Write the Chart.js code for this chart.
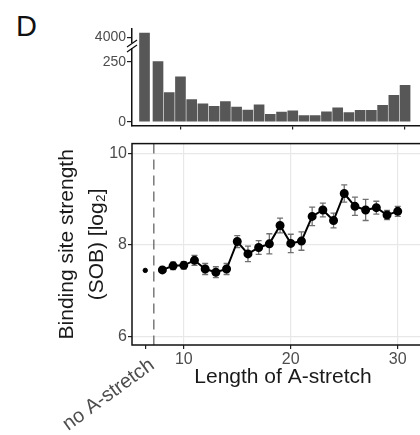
<!DOCTYPE html>
<html lang="en">
<head>
  <meta charset="UTF-8">
  <title>Length of A-stretch</title>
  <script src="https://cdn.jsdelivr.net/npm/chart.js"></script>
  <style>
    html, body { margin: 0; padding: 0; background: #fff; overflow: hidden; }
    body { width: 420px; height: 435px; position: relative; font-family: "Liberation Sans", Arial, sans-serif; }
    #panelLabel { position: absolute; left: 16px; top: 12px; font-size: 29px; line-height: 29px; color: #111; }
    #countChart { position: absolute; left: 0; top: 0; }
    #sobChart { position: absolute; left: 0; top: 133px; }
  </style>
</head>
<body>
  <div id="panelLabel">D</div>
  <canvas id="countChart" width="440" height="135"></canvas>
  <canvas id="sobChart" width="440" height="302"></canvas>

  <script>
    // A-stretch lengths (x axis), plus the "no A-stretch" group
    const lengths = [8, 9, 10, 11, 12, 13, 14, 15, 16, 17, 18, 19, 20, 21, 22, 23, 24, 25, 26, 27, 28, 29, 30];
    const noStretchLabel = 'no A-stretch';
    const noStretchBarX = 6.8;    // where the group sits on the top axis
    const noStretchPointX = 6.4;  // and on the bottom axis
    const dividerX = 7.2;         // dashed separator

    // number of sites per length (top histogram)
    const noStretchCount = 4180;
    const siteCounts = [250, 121, 187, 92, 74, 64, 84, 61, 49, 70, 31, 40, 45, 26, 26, 41, 58, 38, 47, 47, 68, 110, 152];
    const countTicks = [0, 250, 4000];

    // binding site strength (SOB, log2) with error
    const noStretchSob = 7.44;
    const sobMeans = [7.45, 7.54, 7.55, 7.66, 7.47, 7.40, 7.47, 8.07, 7.80, 7.94, 8.02, 8.42, 8.03, 8.08, 8.62, 8.76, 8.53, 9.12, 8.84, 8.76, 8.81, 8.65, 8.73];
    const sobErrors = [0.05, 0.08, 0.08, 0.11, 0.12, 0.12, 0.12, 0.13, 0.17, 0.15, 0.22, 0.16, 0.2, 0.2, 0.2, 0.15, 0.16, 0.19, 0.2, 0.23, 0.14, 0.1, 0.11];
    const sobTicks = [6, 8, 10];
    const lengthTicks = [10, 20, 30];

    const FONT = '"Liberation Sans", Arial, sans-serif';
    const TICK_COLOR = '#4d4d4d';

    // broken y axis: linear up to 250, then a compressed segment around 4000
    function toDisplay(v) {
      return v <= 250 ? v : 351 + (v - 4000) / 10;
    }

    // "//" break mark on the y axis of the histogram
    const axisBreak = {
      id: 'axisBreak',
      afterDraw(chart) {
        const ctx = chart.ctx;
        const x = chart.chartArea.left;
        const y = chart.scales.y.getPixelForValue(315);
        ctx.save();
        ctx.fillStyle = '#fff';
        ctx.fillRect(x - 2, y - 3, 4, 5);
        ctx.strokeStyle = '#111';
        ctx.lineWidth = 1.3;
        ctx.beginPath();
        ctx.moveTo(x - 5, y + 1); ctx.lineTo(x + 5, y - 6);
        ctx.moveTo(x - 5, y + 6); ctx.lineTo(x + 5, y - 1);
        ctx.stroke();
        ctx.restore();
      }
    };

    const barData = [{ x: noStretchBarX, y: toDisplay(noStretchCount) }]
      .concat(lengths.map((l, i) => ({ x: l, y: toDisplay(siteCounts[i]) })));

    new Chart(document.getElementById('countChart'), {
      type: 'bar',
      data: {
        datasets: [{
          data: barData,
          backgroundColor: '#575757',
          barThickness: 10
        }]
      },
      options: {
        responsive: false,
        animation: false,
        layout: { padding: { top: 29, left: 0, right: 0, bottom: 0 } },
        plugins: { legend: { display: false }, tooltip: { enabled: false } },
        scales: {
          x: {
            type: 'linear',
            offset: false,
            min: 5.685,
            max: 33.11,
            afterBuildTicks: s => { s.ticks = lengthTicks.map(v => ({ value: v })); },
            afterFit: s => { s.height = 6; },
            ticks: { display: false },
            grid: { offset: false, drawOnChartArea: false, tickLength: 4, tickColor: '#222', lineWidth: 1.2 },
            border: { color: '#111', width: 1.5 }
          },
          y: {
            min: -16.1,
            max: 385.9,
            afterBuildTicks: s => { s.ticks = countTicks.map(v => ({ value: toDisplay(v) })); },
            afterFit: s => { s.width = 132; },
            ticks: {
              callback: (v, i) => String(countTicks[i]),
              font: { family: FONT, size: 14 },
              color: TICK_COLOR,
              padding: 1
            },
            grid: { drawOnChartArea: false, tickLength: 5, tickColor: '#222', lineWidth: 1.2 },
            border: { color: '#111', width: 1.5 }
          }
        }
      },
      plugins: [axisBreak]
    });

    // frame, dashed separator, error bars and the rotated label
    const sobDecor = {
      id: 'sobDecor',
      beforeDatasetsDraw(chart) {
        const { ctx, chartArea, scales: { x, y } } = chart;
        ctx.save();
        // dashed separator
        ctx.strokeStyle = '#666';
        ctx.lineWidth = 1.3;
        ctx.setLineDash([10, 6]);
        ctx.beginPath();
        const dx = x.getPixelForValue(dividerX);
        ctx.moveTo(dx, chartArea.top);
        ctx.lineTo(dx, chartArea.bottom);
        ctx.stroke();
        ctx.setLineDash([]);
        // error bars
        ctx.strokeStyle = '#707070';
        ctx.lineWidth = 1.3;
        ctx.beginPath();
        lengths.forEach((l, i) => {
          const px = x.getPixelForValue(l);
          const lo = y.getPixelForValue(sobMeans[i] - sobErrors[i]);
          const hi = y.getPixelForValue(sobMeans[i] + sobErrors[i]);
          ctx.moveTo(px, lo); ctx.lineTo(px, hi);
          ctx.moveTo(px - 3, lo); ctx.lineTo(px + 3, lo);
          ctx.moveTo(px - 3, hi); ctx.lineTo(px + 3, hi);
        });
        ctx.stroke();
        ctx.restore();
      },
      afterDraw(chart) {
        const { ctx, chartArea, scales: { x } } = chart;
        ctx.save();
        ctx.strokeStyle = '#111';
        ctx.lineWidth = 1.5;
        ctx.strokeRect(chartArea.left, chartArea.top, chartArea.right - chartArea.left, chartArea.bottom - chartArea.top);
        // rotated group label
        ctx.translate(x.getPixelForValue(noStretchPointX) + 1, chartArea.bottom + 10);
        ctx.rotate(-36 * Math.PI / 180);
        ctx.font = '20px ' + FONT;
        ctx.fillStyle = TICK_COLOR;
        ctx.textAlign = 'right';
        ctx.textBaseline = 'top';
        ctx.fillText(noStretchLabel, 0, 0);
        ctx.restore();
      }
    };

    new Chart(document.getElementById('sobChart'), {
      type: 'line',
      data: {
        datasets: [{
          data: lengths.map((l, i) => ({ x: l, y: sobMeans[i] })),
          borderColor: '#000',
          borderWidth: 2,
          pointRadius: 3.5,
          pointBackgroundColor: '#000',
          pointBorderColor: '#000',
          tension: 0
        }, {
          data: [{ x: noStretchPointX, y: noStretchSob }],
          showLine: false,
          pointRadius: 2.2,
          pointBackgroundColor: '#000',
          pointBorderColor: '#000'
        }]
      },
      options: {
        responsive: false,
        animation: false,
        layout: { padding: { top: 4, left: 0, right: 0, bottom: 0 } },
        plugins: { legend: { display: false }, tooltip: { enabled: false } },
        scales: {
          x: {
            type: 'linear',
            min: 5.16,
            max: 33.39,
            afterBuildTicks: s => { s.ticks = [noStretchPointX].concat(lengthTicks).map(v => ({ value: v })); },
            afterFit: s => { s.height = 90; },
            ticks: {
              callback: v => (v === noStretchPointX ? '' : String(v)),
              font: { family: FONT, size: 16 },
              color: TICK_COLOR,
              padding: 1,
              maxRotation: 0,
              autoSkip: false
            },
            grid: {
              color: c => (c.tick && c.tick.value === noStretchPointX ? 'rgba(0,0,0,0)' : '#e8e8e8'),
              tickColor: '#222',
              tickLength: 4,
              lineWidth: 1.2
            },
            border: { display: false },
            title: {
              display: true,
              text: 'Length of A-stretch',
              font: { family: FONT, size: 21 },
              color: '#1a1a1a',
              padding: { top: 0, bottom: 45 }
            }
          },
          y: {
            min: 5.81,
            max: 10.21,
            afterBuildTicks: s => { s.ticks = sobTicks.map(v => ({ value: v })); },
            afterFit: s => { s.width = 132; },
            ticks: {
              font: { family: FONT, size: 16 },
              color: TICK_COLOR,
              padding: 1
            },
            grid: { color: '#e8e8e8', tickColor: '#222', tickLength: 4, lineWidth: 1.2 },
            border: { display: false },
            title: {
              display: true,
              text: ['Binding site strength', '(SOB) [log\u2082]'],
              font: { family: FONT, size: 21, lineHeight: 1.43 },
              color: '#1a1a1a',
              padding: { top: 52, bottom: 0 }
            }
          }
        }
      },
      plugins: [sobDecor]
    });
  </script>
</body>
</html>
